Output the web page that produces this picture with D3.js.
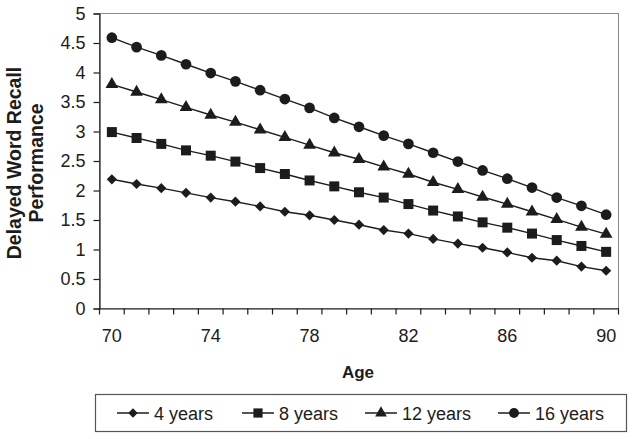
<!DOCTYPE html>
<html>
<head>
<meta charset="utf-8">
<script src="https://cdn.jsdelivr.net/npm/d3@7"></script>
<style>
  html, body { margin: 0; padding: 0; background: #fff; }
  svg { display: block; font-family: "Liberation Sans", Arial, sans-serif; }
</style>
</head>
<body>
<svg id="chart" width="634" height="439"></svg>
<script>
// ---- data ----
const ages = [70,71,72,73,74,75,76,77,78,79,80,81,82,83,84,85,86,87,88,89,90];
const ageTickLabels = [70, 74, 78, 82, 86, 90];
const yTicks = [0, 0.5, 1, 1.5, 2, 2.5, 3, 3.5, 4, 4.5, 5];
const seriesNames = ["4 years", "8 years", "12 years", "16 years"];
const years4  = [2.19, 2.11, 2.04, 1.96, 1.88, 1.81, 1.73, 1.64, 1.58, 1.50, 1.42, 1.33, 1.27, 1.18, 1.10, 1.03, 0.95, 0.86, 0.81, 0.71, 0.64];
const years8  = [2.99, 2.89, 2.79, 2.68, 2.59, 2.49, 2.38, 2.28, 2.17, 2.07, 1.97, 1.88, 1.77, 1.66, 1.56, 1.46, 1.37, 1.27, 1.16, 1.06, 0.96];
const years12 = [3.80, 3.67, 3.54, 3.41, 3.28, 3.16, 3.03, 2.90, 2.77, 2.64, 2.53, 2.40, 2.28, 2.14, 2.02, 1.89, 1.77, 1.64, 1.51, 1.38, 1.26];
const years16 = [4.59, 4.43, 4.29, 4.14, 3.99, 3.85, 3.70, 3.55, 3.40, 3.23, 3.08, 2.93, 2.79, 2.64, 2.49, 2.34, 2.20, 2.05, 1.88, 1.74, 1.59];
const yTitleLines = ["Delayed Word Recall", "Performance"];
const xTitle = "Age";

(function () {
const seriesValues = [years4, years8, years12, years16];
const symbols = [
  { type: d3.symbolSquare, size: 52, rotate: 45 },
  { type: d3.symbolSquare, size: 100, rotate: 0 },
  { type: d3.symbolTriangle, size: 70, rotate: 0 },
  { type: d3.symbolCircle, size: 90, rotate: 0 }
];

const svg = d3.select("#chart");
const pLeft = 99.5, pRight = 618.5, pTop = 13.5, pBottom = 308.5;
const ink = "#1c1c1c";

const x = d3.scaleBand().domain(ages).range([pLeft, pRight]).padding(0);
const y = d3.scaleLinear().domain([0, 5]).range([pBottom, pTop]);
const cx = a => x(a) + x.bandwidth() / 2;

// plot area border (top/right gray)
svg.append("rect")
  .attr("x", pLeft).attr("y", pTop)
  .attr("width", pRight - pLeft).attr("height", pBottom - pTop)
  .attr("fill", "none").attr("stroke", "#8a8a8a").attr("stroke-width", 1);

// y axis
const yAxis = d3.axisLeft(y).tickValues(yTicks).tickSize(6).tickPadding(8)
  .tickFormat(d => String(d));
const gy = svg.append("g").attr("transform", `translate(${pLeft},0)`).call(yAxis);
gy.select(".domain").attr("stroke", ink).attr("stroke-width", 1.2);
gy.selectAll(".tick line").attr("stroke", ink).attr("stroke-width", 1.2);
gy.selectAll(".tick text").attr("font-size", 18).attr("fill", ink)
  .attr("font-family", "Liberation Sans, Arial, sans-serif");

// x axis: labels at category centers, ticks at category boundaries
const xAxis = d3.axisBottom(x).tickValues(ageTickLabels).tickSize(0).tickPadding(21)
  .tickSizeOuter(0);
const gx = svg.append("g").attr("transform", `translate(0,${pBottom})`).call(xAxis);
gx.select(".domain").attr("stroke", ink).attr("stroke-width", 1.2);
gx.selectAll(".tick text").attr("font-size", 18).attr("fill", ink)
  .attr("font-family", "Liberation Sans, Arial, sans-serif");
const boundaries = ages.map(a => x(a)).concat([x(ages[ages.length - 1]) + x.bandwidth()]);
gx.selectAll("line.bt").data(boundaries).enter().append("line")
  .attr("class", "bt")
  .attr("x1", d => d).attr("x2", d => d)
  .attr("y1", 0).attr("y2", 6)
  .attr("stroke", ink).attr("stroke-width", 1.2);

// series
const line = d3.line().x((d, i) => cx(ages[i])).y(d => y(d));
seriesValues.forEach((vals, si) => {
  svg.append("path").datum(vals)
    .attr("d", line).attr("fill", "none")
    .attr("stroke", ink).attr("stroke-width", 1.4);
  const sym = symbols[si];
  svg.selectAll(null).data(vals).enter().append("path")
    .attr("d", d3.symbol().type(sym.type).size(sym.size)())
    .attr("transform", (d, i) => `translate(${cx(ages[i])},${y(d)}) rotate(${sym.rotate})`)
    .attr("fill", ink);
});

// axis titles
const yt = svg.append("g").attr("font-weight", "bold").attr("font-size", 19.5).attr("fill", ink)
  .attr("text-anchor", "middle");
yt.append("text").attr("transform", "translate(21,163) rotate(-90)").text(yTitleLines[0]);
yt.append("text").attr("transform", "translate(43,163) rotate(-90)").text(yTitleLines[1]);

svg.append("text").attr("x", 358).attr("y", 378)
  .attr("text-anchor", "middle").attr("font-weight", "bold").attr("font-size", 17)
  .attr("fill", ink).text(xTitle);

// legend
svg.append("rect").attr("x", 95.5).attr("y", 394.5).attr("width", 531).attr("height", 37)
  .attr("fill", "none").attr("stroke", "#555").attr("stroke-width", 1.2);
const legX = [117, 242, 365, 498];
const lg = svg.selectAll("g.leg").data(seriesNames).enter().append("g")
  .attr("class", "leg")
  .attr("transform", (d, i) => `translate(${legX[i]},413)`);
lg.append("line").attr("x1", 0).attr("x2", 32).attr("y1", 0).attr("y2", 0)
  .attr("stroke", ink).attr("stroke-width", 1.5);
lg.append("path")
  .attr("d", (d, i) => d3.symbol().type(symbols[i].type).size(symbols[i].size * 0.85)())
  .attr("transform", (d, i) => `translate(16,0) rotate(${symbols[i].rotate})`)
  .attr("fill", ink);
lg.append("text").attr("x", 37).attr("y", 7).attr("font-size", 18).attr("fill", ink)
  .text(d => d);
})();
</script>
</body>
</html>
